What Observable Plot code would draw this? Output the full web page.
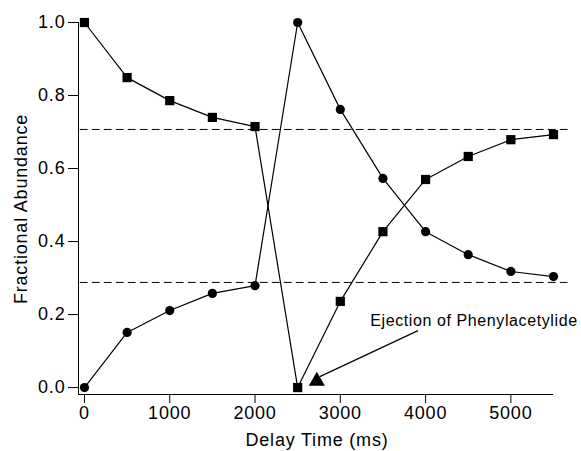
<!DOCTYPE html>
<html><head><meta charset="utf-8">
<script src="https://cdn.jsdelivr.net/npm/d3@7"></script>
<script src="https://cdn.jsdelivr.net/npm/@observablehq/plot@0.6"></script>
<style>body{margin:0;background:#fff;font-family:"Liberation Sans",Arial,sans-serif}
svg text{letter-spacing:0.8px}
svg g.ann text{letter-spacing:0.6px}</style>
</head><body><div id="chart"></div>
<script>
const delays = [0, 500, 1000, 1500, 2000, 2500, 3000, 3500, 4000, 4500, 5000, 5500];
const squares = [1.0, 0.849, 0.786, 0.740, 0.715, 0.0, 0.236, 0.427, 0.570, 0.633, 0.679, 0.693];
const circles = [0.0, 0.151, 0.211, 0.258, 0.279, 1.0, 0.762, 0.573, 0.427, 0.364, 0.318, 0.304];
const dashedLevels = [0.707, 0.288];
const dashedSpan = [-50, 5660];
const xTicks = [0, 1000, 2000, 3000, 4000, 5000];
const yTicks = [0.0, 0.2, 0.4, 0.6, 0.8, 1.0];
const annotationText = ["Ejection of Phenylacetylide"];
const annotationPos = {x: 4567, y: 0.184};
const arrowLine = {x1: 3911, y1: 0.156, x2: 2760, y2: 0.03};
const arrowHead = {x: 2725, y: 0.018};
const xMin = -70, yMin = -0.019;

const sq = delays.map((d, i) => ({x: d, y: squares[i]}));
const ci = delays.map((d, i) => ({x: d, y: circles[i]}));
const dashed = dashedLevels.flatMap((v, k) => dashedSpan.map(x => ({x, y: v, k})));

const chart = Plot.plot({
  width: 581, height: 451,
  marginLeft: 78, marginRight: 28, marginTop: 22, marginBottom: 57,
  style: {fontFamily: '"Liberation Sans", Arial, sans-serif', color: "#000", background: "#fff"},
  x: {domain: [xMin, 5500], label: null},
  y: {domain: [yMin, 1.0], label: null},
  marks: [
    Plot.line(dashed, {x: "x", y: "y", z: "k", stroke: "#000", strokeWidth: 1, strokeDasharray: "7,5", clip: false}),
    Plot.ruleX([xMin], {y1: yMin, y2: 1.0, stroke: "#000", strokeWidth: 1}),
    Plot.ruleY([yMin], {x1: xMin, x2: 5500, stroke: "#000", strokeWidth: 1}),
    Plot.axisY({ticks: yTicks, tickSize: 10, text: null, label: null, anchor: "left"}),
    Plot.axisX({ticks: xTicks, tickSize: 9, text: null, label: null, anchor: "bottom"}),
    Plot.text(yTicks, {x: xMin, y: d => d, text: d3.format(".1f"), dx: -13, textAnchor: "end", lineAnchor: "middle", fontSize: 18, fill: "#000"}),
    Plot.text(xTicks, {x: d => d, y: yMin, text: d => String(d), dy: 19, lineAnchor: "middle", fontSize: 18, fill: "#000"}),
    Plot.line(sq, {x: "x", y: "y", stroke: "#000", strokeWidth: 1.2}),
    Plot.line(ci, {x: "x", y: "y", stroke: "#000", strokeWidth: 1.2}),
    Plot.dot(sq, {x: "x", y: "y", symbol: "square", r: 5.2, fill: "#000", stroke: "none"}),
    Plot.dot(ci, {x: "x", y: "y", symbol: "circle", r: 4.6, fill: "#000", stroke: "none"}),
    Plot.link([arrowLine], {x1: "x1", y1: "y1", x2: "x2", y2: "y2", stroke: "#000", strokeWidth: 1.2}),
    Plot.dot([arrowHead], {x: "x", y: "y", symbol: "triangle", r: 6, fill: "#000", stroke: "none"}),
    Plot.text(annotationText, {x: annotationPos.x, y: annotationPos.y, text: d => d, fontSize: 16, fill: "#000", className: "ann"})
  ]
});
const svg = d3.select(chart);
svg.append("text").attr("x", 317).attr("y", 446).attr("text-anchor", "middle")
  .attr("font-size", 18).text("Delay Time (ms)");
svg.append("text").attr("transform", "translate(27,209) rotate(-90)").attr("text-anchor", "middle")
  .attr("font-size", 18).text("Fractional Abundance");
document.getElementById("chart").appendChild(chart);
</script></body></html>
